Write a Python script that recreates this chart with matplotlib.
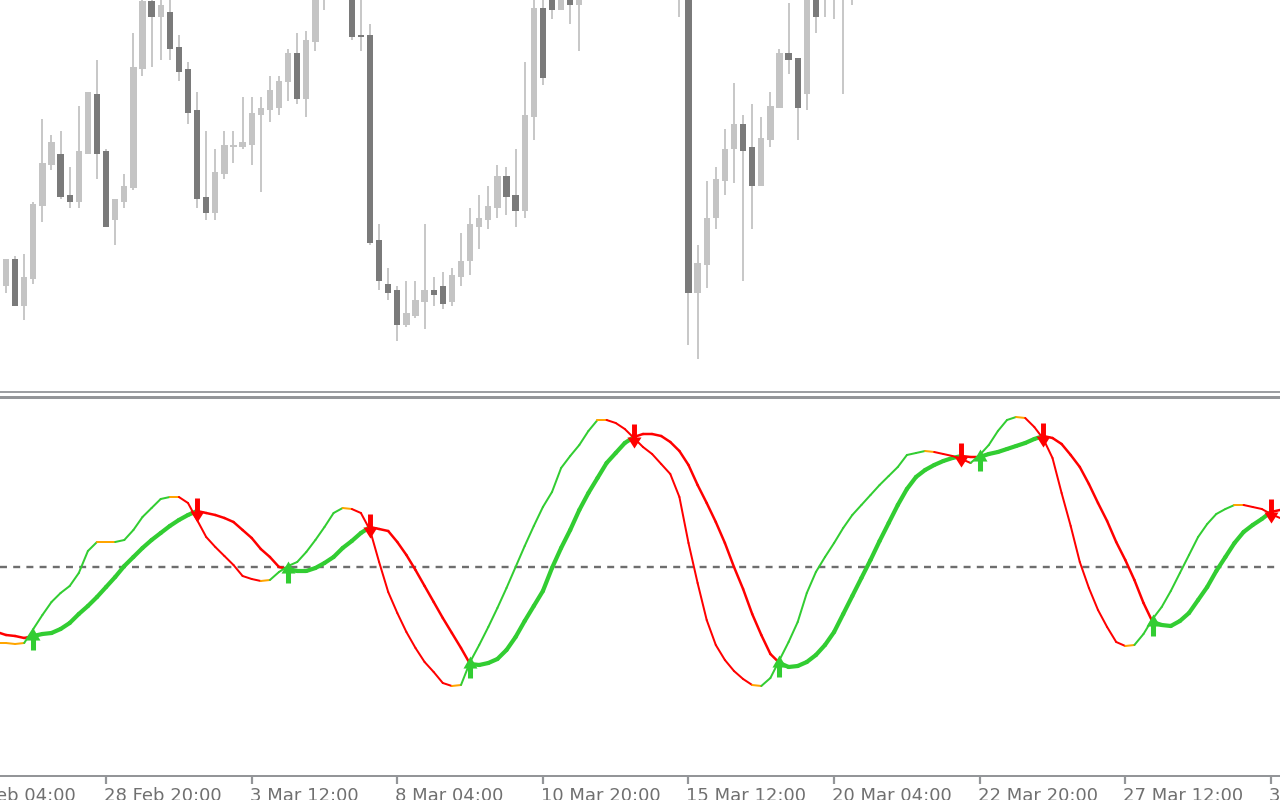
import numpy as np
import matplotlib
matplotlib.use("Agg")
import matplotlib.pyplot as plt
from matplotlib.collections import LineCollection
from matplotlib.path import Path
import matplotlib.transforms as mtransforms

# ---------------- data: H4 candles (price in points) ----------------
candle_bar = [0, 1, 2, 3, 4, 5, 6, 7, 8, 9, 10, 11, 12, 13, 14, 15, 16, 17, 18, 19,
              20, 21, 22, 23, 24, 25, 26, 27, 28, 29, 30, 31, 32, 33, 34, 35, 38, 39,
              40, 41, 42, 43, 44, 45, 46, 47, 48, 49, 50, 51, 52, 53, 54, 55, 56, 57,
              58, 59, 60, 61, 62, 63, 74, 75, 76, 77, 78, 79, 80, 81, 82, 83, 84, 85,
              86, 87, 88, 89, 90, 91, 92, 93]
candle_open = [106, 133, 86, 113, 186, 227, 238, 197, 190, 238, 298, 241, 172, 190, 204, 323,
               391, 375, 380, 345, 323, 282, 195, 179, 218, 245, 245, 247, 277, 282, 284, 310,
               339, 293, 350, 398, 410, 357, 357, 152, 108, 102, 67, 76, 90, 102, 106, 90,
               115, 131, 165, 172, 184, 216, 197, 181, 275, 384, 400, 382, 405, 387, 420, 410,
               99, 127, 174, 211, 243, 268, 245, 206, 252, 284, 339, 334, 298, 410, 400, 400,
               400, 400]
candle_high = [133, 136, 138, 190, 273, 257, 261, 225, 286, 300, 332, 243, 193, 218, 359, 396,
               400, 393, 400, 357, 330, 300, 261, 243, 261, 261, 295, 295, 295, 316, 316, 343,
               359, 361, 410, 420, 415, 395, 368, 168, 124, 106, 111, 111, 168, 115, 120, 124,
               159, 184, 197, 206, 227, 225, 243, 330, 400, 400, 405, 405, 410, 410, 425, 415,
               147, 211, 225, 263, 309, 277, 288, 275, 300, 343, 389, 334, 410, 415, 415, 415,
               415, 415]
candle_low = [99, 86, 72, 108, 170, 222, 193, 184, 184, 238, 213, 165, 147, 184, 202, 316,
              325, 332, 332, 311, 268, 184, 172, 172, 213, 229, 243, 227, 200, 270, 277, 291,
              288, 275, 341, 382, 352, 341, 147, 102, 92, 51, 65, 74, 63, 86, 83, 86,
              106, 117, 143, 163, 174, 177, 165, 174, 252, 307, 373, 382, 368, 341, 375, 47,
              33, 104, 163, 197, 209, 111, 163, 206, 245, 284, 318, 252, 282, 359, 375, 373,
              298, 387]
candle_close = [133, 86, 115, 188, 229, 250, 195, 190, 241, 300, 238, 165, 193, 206, 325, 391,
                375, 387, 343, 320, 279, 193, 179, 220, 247, 247, 250, 279, 284, 302, 311, 339,
                293, 352, 400, 412, 355, 355, 149, 111, 99, 67, 79, 92, 102, 97, 88, 117,
                131, 168, 174, 186, 216, 195, 181, 277, 384, 314, 382, 400, 387, 405, 410, 99,
                129, 174, 213, 243, 268, 241, 206, 254, 286, 339, 332, 284, 400, 375, 410, 410,
                410, 410]

# ---------------- data: oscillator (first value belongs to bar -1) ----------------
osc_first_bar = -1
fast_line = [-76, -76, -77, -76, -62, -48, -35, -26, -19, -6, 16, 25, 25, 25, 27, 37, 50, 59,
             68, 70, 70, 64, 47, 30, 20, 11, 2, -9, -12, -14, -13, -5, 1, 5, 15, 27, 40, 54,
             59, 58, 54, 37, 5, -25, -46, -65, -81, -95, -105, -116, -119, -118, -95, -78,
             -60, -41, -21, 0, 21, 41, 60, 75, 99, 111, 122, 136, 147, 147, 144, 138, 129,
             120, 113, 103, 93, 70, 24, -16, -53, -78, -93, -104, -112, -118, -119, -111,
             -93, -75, -55, -26, -5, 10, 24, 39, 52, 62, 72, 82, 91, 100, 112, 114, 116, 115,
             113, 111, 108, 104, 112, 122, 136, 147, 150, 149, 140, 128, 109, 74, 41, 5, -21,
             -43, -60, -75, -79, -78, -67, -52, -40, -24, -6, 12, 30, 43, 53, 58, 62, 62, 60,
             58, 53, 49]
slow_line = [-65, -68, -69, -71, -69, -67, -66, -62, -56, -47, -39, -30, -20, -10, 1, 10, 19,
             27, 34, 41, 47, 52, 56, 54, 52, 49, 45, 37, 29, 18, 10, 0, -2, -4, -4, -1, 4, 10,
             19, 26, 34, 40, 38, 36, 25, 12, -3, -19, -35, -51, -66, -81, -97, -98, -96, -92,
             -83, -70, -54, -39, -24, -1, 19, 37, 57, 74, 89, 104, 114, 124, 130, 133, 133,
             131, 125, 116, 102, 82, 64, 45, 24, 0, -22, -47, -68, -87, -96, -100, -99, -95,
             -88, -78, -65, -47, -29, -11, 7, 26, 44, 62, 78, 90, 97, 102, 106, 109, 111, 110,
             110, 113, 115, 118, 121, 124, 128, 131, 129, 123, 112, 100, 83, 64, 46, 25, 7,
             -13, -36, -55, -58, -59, -54, -46, -33, -20, -4, 10, 24, 35, 42, 48, 55, 57]
level_line = 0

tick_bars = [-5, 11, 27, 43, 59, 75, 91, 107, 123, 139]
tick_labels = ["24 Feb 04:00", "28 Feb 20:00", "3 Mar 12:00", "8 Mar 04:00",
               "10 Mar 20:00", "15 Mar 12:00", "20 Mar 04:00", "22 Mar 20:00",
               "27 Mar 12:00", "30 Mar 04:00"]

# ---------------- style ----------------
BULL = "#c4c4c4"
BEAR = "#7a7a7a"
WICK = "#c8c8c8"
GREEN = "#32cd32"
RED = "#ff0000"
ORANGE = "#ffa500"
FRAME = "#939598"
TEXT = "#707070"
PX = 72.0 / 100.0  # points per pixel

fig = plt.figure(figsize=(12.8, 8), dpi=100)
fig.patch.set_facecolor("white")
ax1 = fig.add_axes([0, 0.510625, 1, 0.489375])
ax2 = fig.add_axes([0, 0.03, 1, 0.474375])

xlim = (-0.659, 140.0)

# ---- price panel ----
cb = np.array(candle_bar)
co = np.array(candle_open, float)
ch = np.array(candle_high, float)
cl = np.array(candle_low, float)
cc = np.array(candle_close, float)
ax1.vlines(cb, cl, ch, color=WICK, lw=2 * PX, zorder=1)
up = cc >= co
body_h = np.maximum(np.abs(cc - co), 2.0)
body_b = np.minimum(co, cc)
ax1.bar(cb, body_h, bottom=body_b, width=0.7,
        color=np.where(up, BULL, BEAR), edgecolor="none", zorder=2)
ax1.set_xticks([])
ax1.set_yticks([])
ax1.set_xlim(*xlim)
ax1.set_ylim(0.5, 392)
for s in ("top", "left", "right"):
    ax1.spines[s].set_visible(False)
ax1.spines["bottom"].set_color(FRAME)
ax1.spines["bottom"].set_linewidth(1.8 * PX)

# ---- oscillator panel ----
fast = np.array(fast_line, float)
slow = np.array(slow_line, float)
bars = np.arange(len(fast)) + osc_first_bar

ax2.axhline(level_line, color="#6e6e6e", lw=2.4 * PX, dashes=(2.9, 2.6), zorder=1)

above = fast > slow  # fast above slow -> bullish state

# slow line: colour by state at segment start
seg_slow = [[(bars[i], slow[i]), (bars[i + 1], slow[i + 1])] for i in range(len(bars) - 1)]
col_slow = [GREEN if above[i] else RED for i in range(len(bars) - 1)]
lw_slow = [4.2 * PX if above[i] else 2.5 * PX for i in range(len(bars) - 1)]
lc_slow = LineCollection(seg_slow, colors=col_slow, linewidths=lw_slow,
                         capstyle="round", joinstyle="round", zorder=2)
ax2.add_collection(lc_slow)

# fast line: colour by slope
seg_fast = [[(bars[i], fast[i]), (bars[i + 1], fast[i + 1])] for i in range(len(bars) - 1)]
d = np.diff(fast)
col_fast = [ORANGE if abs(v) < 1.5 else (GREEN if v > 0 else RED) for v in d]
lc_fast = LineCollection(seg_fast, colors=col_fast, linewidths=2.0 * PX,
                         capstyle="round", joinstyle="round", zorder=3)
ax2.add_collection(lc_fast)

# crossover arrows
up_v = [(-0.18, -1.0), (0.18, -1.0), (0.18, -0.29), (0.5, -0.29), (0.0, 0.57),
        (-0.5, -0.29), (-0.18, -0.29), (-0.18, -1.0)]
up_marker = Path(up_v, [Path.MOVETO] + [Path.LINETO] * (len(up_v) - 2) + [Path.CLOSEPOLY])
dn_v = [(-0.19, 1.0), (0.19, 1.0), (0.19, 0.0), (0.54, 0.0), (0.0, -0.85),
        (-0.54, 0.0), (-0.19, 0.0), (-0.19, 1.0)]
dn_marker = Path(dn_v, [Path.MOVETO] + [Path.LINETO] * (len(dn_v) - 2) + [Path.CLOSEPOLY])

cross_up = [i for i in range(1, len(bars)) if above[i] and not above[i - 1]]
cross_dn = [i for i in range(1, len(bars)) if (not above[i]) and above[i - 1]]
ax2.plot(bars[cross_up], slow[cross_up], linestyle="none", marker=up_marker,
         markersize=28 * PX, color=GREEN, markeredgewidth=0, zorder=5)
ax2.plot(bars[cross_dn], slow[cross_dn], linestyle="none", marker=dn_marker,
         markersize=26 * PX, color=RED, markeredgewidth=0, zorder=5)

ax2.set_yticks([])
for s in ("left", "right"):
    ax2.spines[s].set_visible(False)
ax2.spines["top"].set_color(FRAME)
ax2.spines["top"].set_linewidth(3.0 * PX)
ax2.spines["bottom"].set_color(FRAME)
ax2.spines["bottom"].set_linewidth(2.0 * PX)
ax2.set_xticks(tick_bars)
ax2.set_xticklabels([])
ax2.tick_params(axis="x", direction="out", length=8 * PX, width=2.2 * PX, color=FRAME)
ax2.set_xlim(*xlim)
ax2.set_ylim(-209, 170.5)

lbl_tr = mtransforms.offset_copy(ax2.get_xaxis_transform(), fig=fig, x=-2, y=-25, units="dots")
for b, t in zip(tick_bars, tick_labels):
    ax2.text(b, 0, t, transform=lbl_tr, ha="left", va="baseline", fontsize=13,
             color=TEXT, family="DejaVu Sans", clip_on=False)

fig.savefig("out.png", dpi=100, facecolor="white")
